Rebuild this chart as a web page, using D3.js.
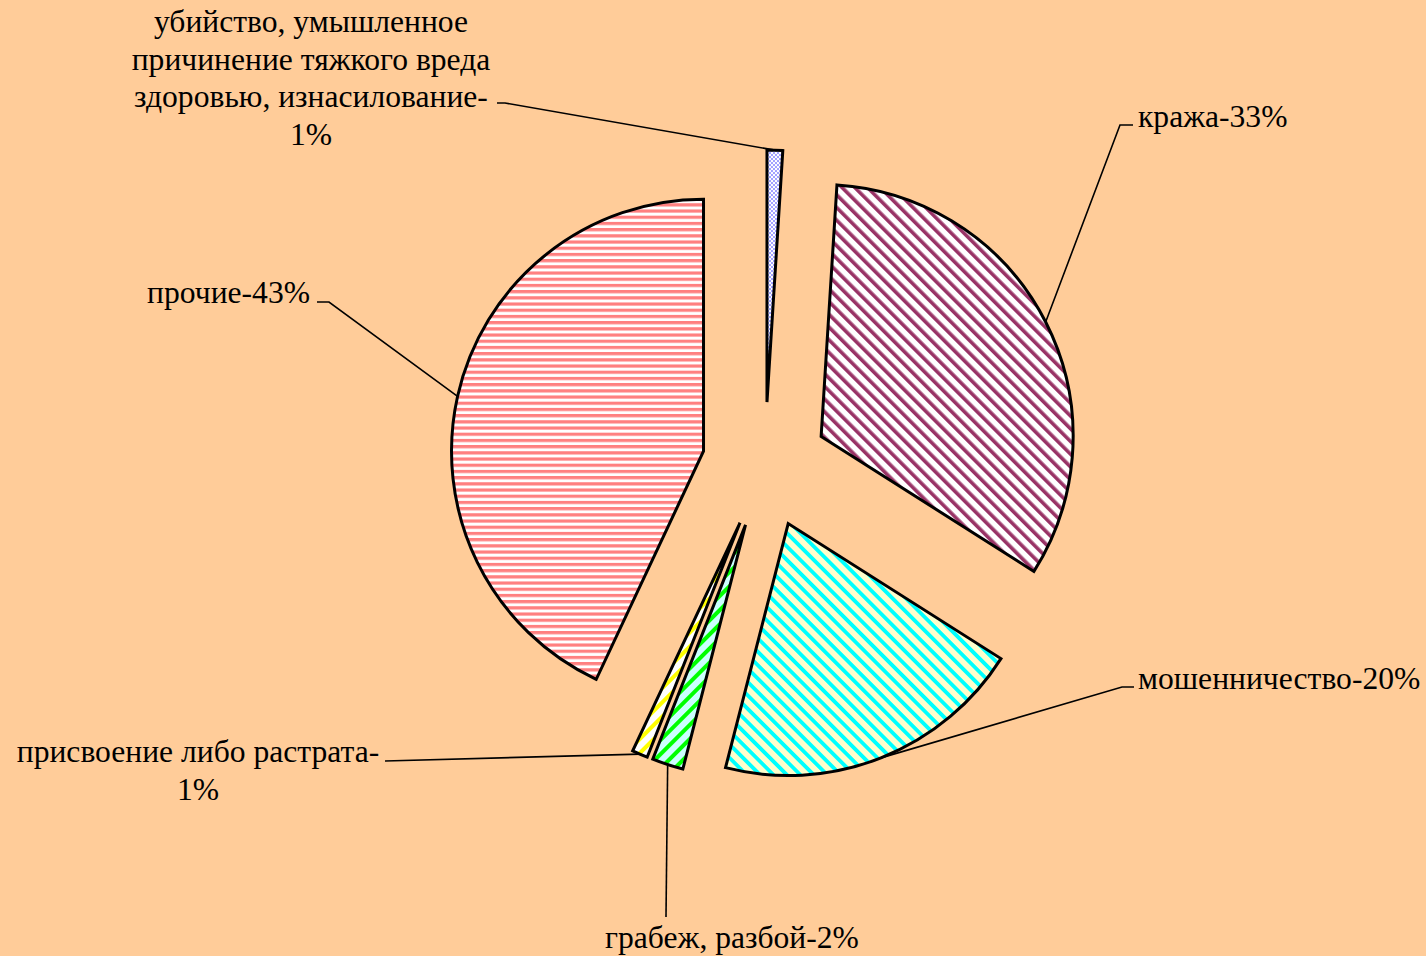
<!DOCTYPE html>
<html>
<head>
<meta charset="utf-8">
<script src="https://cdn.jsdelivr.net/npm/d3@7"></script>
<style>
  html, body { margin: 0; padding: 0; background: #ffcc99; }
  svg { display: block; }
</style>
</head>
<body>
<svg id="chart" width="1426" height="956"></svg>
<script>
// data
const categories = [
  'убийство, умышленное причинение тяжкого вреда здоровью, изнасилование',
  'кража',
  'мошенничество',
  'грабеж, разбой',
  'присвоение либо растрата',
  'прочие'
];
const values = [1, 33, 20, 2, 1, 43];
const labelLines = [
  ['убийство, умышленное', 'причинение тяжкого вреда', 'здоровью, изнасилование-', '1%'],
  ['кража-33%'],
  ['мошенничество-20%'],
  ['грабеж, разбой-2%'],
  ['присвоение либо растрата-', '1%'],
  ['прочие-43%']
];

// layout
const width = 1426, height = 956;
const cx = 765, cy = 465, radius = 252, explode = 63;
const fontSize = 31.6, lineHeight = 37.5;
// label anchor (x, first baseline, text-anchor) and leader elbow points
const labelLayout = [
  { x: 311, y: 32, anchor: 'middle', elbow: [[505, 103], [497, 103]] },
  { x: 1138, y: 127, anchor: 'start', elbow: [[1120, 125], [1133, 125]] },
  { x: 1138, y: 689, anchor: 'start', elbow: [[1122, 687], [1134, 687]] },
  { x: 732, y: 948, anchor: 'middle', elbow: [[666, 917]] },
  { x: 198, y: 762, anchor: 'middle', elbow: [[385, 761]] },
  { x: 310, y: 303, anchor: 'end', elbow: [[329, 302], [317, 302]] }
];

const svg = d3.select('#chart');
svg.append('rect').attr('width', width).attr('height', height).attr('fill', '#ffcc99');

// hatch patterns
const defs = svg.append('defs');
const stripe = (id, bg, fg, size, w, angle) => {
  const p = defs.append('pattern')
    .attr('id', id)
    .attr('patternUnits', 'userSpaceOnUse')
    .attr('width', size).attr('height', size)
    .attr('patternTransform', `rotate(${angle})`);
  p.append('rect').attr('width', size).attr('height', size).attr('fill', bg);
  p.append('rect').attr('width', w).attr('height', size).attr('fill', fg);
};
const checker = defs.append('pattern')
  .attr('id', 'p0').attr('patternUnits', 'userSpaceOnUse')
  .attr('width', 4).attr('height', 4);
checker.append('rect').attr('width', 4).attr('height', 4).attr('fill', '#ffffff');
checker.append('rect').attr('width', 2).attr('height', 2).attr('fill', '#a0a0ff');
checker.append('rect').attr('x', 2).attr('y', 2).attr('width', 2).attr('height', 2).attr('fill', '#a0a0ff');
stripe('p1', '#ffffff', '#993366', 9, 3.6, -45);
stripe('p2', '#ffffcc', '#00ffff', 9.5, 3.8, -45);
stripe('p3', '#ccffff', '#00ff00', 10, 4, 45);
stripe('p4', '#ffffff', '#ffff00', 10, 4, 45);
stripe('p5', '#ffffff', '#ff8080', 6.2, 3.2, 90);

const pie = d3.pie().sort(null).value(d => d);
const arcs = pie(values);
const arc = d3.arc().innerRadius(0).outerRadius(radius);

const offset = d => {
  const m = (d.startAngle + d.endAngle) / 2;
  return [Math.sin(m) * explode, -Math.cos(m) * explode];
};

const g = svg.append('g').attr('transform', `translate(${cx},${cy})`);

g.selectAll('path.slice')
  .data(arcs)
  .join('path')
  .attr('class', 'slice')
  .attr('transform', d => `translate(${offset(d)})`)
  .attr('d', arc)
  .attr('fill', (d, i) => `url(#p${i})`)
  .attr('stroke', '#000')
  .attr('stroke-width', 3)
  .attr('stroke-linejoin', 'miter');

// leader lines
arcs.forEach((d, i) => {
  const m = (d.startAngle + d.endAngle) / 2;
  const [ox, oy] = offset(d);
  const px = cx + ox + Math.sin(m) * radius;
  const py = cy + oy - Math.cos(m) * radius;
  const pts = [[px, py]].concat(labelLayout[i].elbow);
  svg.append('path')
    .attr('d', d3.line()(pts))
    .attr('fill', 'none')
    .attr('stroke', '#000')
    .attr('stroke-width', 1.6);
});

// labels
labelLines.forEach((lines, i) => {
  const L = labelLayout[i];
  const t = svg.append('text')
    .attr('font-family', '"Liberation Serif", "Times New Roman", serif')
    .attr('font-size', fontSize)
    .attr('fill', '#000')
    .attr('text-anchor', L.anchor);
  lines.forEach((s, k) => {
    t.append('tspan').attr('x', L.x).attr('y', L.y + k * lineHeight).text(s);
  });
});
</script>
</body>
</html>
